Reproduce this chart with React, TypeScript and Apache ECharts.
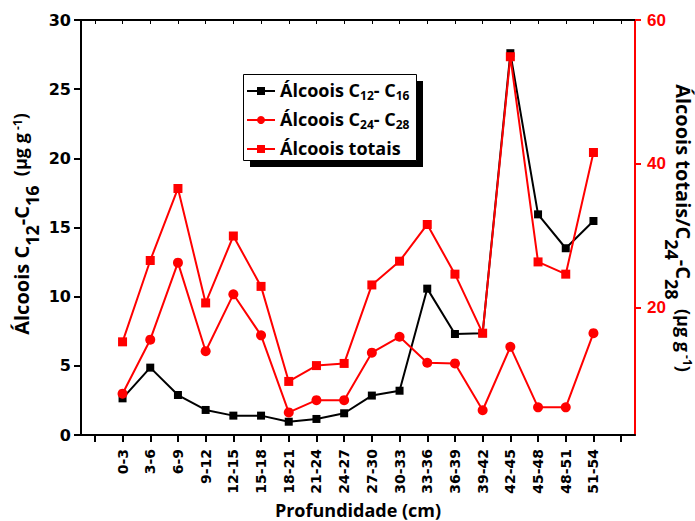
import React, { useEffect, useRef } from 'react';
import * as echarts from 'echarts';

const depths = ['0-3', '3-6', '6-9', '9-12', '12-15', '15-18', '18-21', '21-24', '24-27', '27-30', '30-33', '33-36', '36-39', '39-42', '42-45', '45-48', '48-51', '51-54'];
const alcC12C16 = [2.65, 4.87, 2.89, 1.81, 1.4, 1.4, 0.96, 1.16, 1.57, 2.85, 3.2, 10.58, 7.3, 7.35, 27.6, 15.95, 13.5, 15.47];
const alcC24C28 = [8.1, 15.6, 26.3, 14.0, 21.9, 16.2, 5.5, 7.2, 7.2, 13.8, 16.0, 12.4, 12.3, 5.8, 14.6, 6.2, 6.2, 16.5];
const alcTotais = [15.3, 26.6, 36.6, 20.7, 30.0, 23.0, 9.8, 12.0, 12.3, 23.2, 26.5, 31.6, 24.7, 16.5, 54.9, 26.4, 24.7, 41.6];
const rightMajorTicks = [20, 40, 60];

const RED = '#ff0000';
const TITLE_FONT = 'Open Sans';
const NUM_FONT = 'DejaVu Sans';

export default function App() {
  const ref = useRef<HTMLDivElement>(null);
  useEffect(() => {
    if (!ref.current) return;
    const chart = echarts.init(ref.current, null, { renderer: 'svg' });
    const xTicks = [0, ...depths.map((_, i) => i + 1), depths.length + 1];
    const xLabels = depths.map((_, i) => i + 1);
    const xMin = -0.5;
    const xMax = depths.length + 1.5;

    const legendRich = {
      m: { fontFamily: TITLE_FONT, fontWeight: 'bold', fontSize: 18, lineHeight: 20, verticalAlign: 'top', color: '#000' },
      s: { fontFamily: TITLE_FONT, fontWeight: 'bold', fontSize: 12, lineHeight: 12, padding: [10, 0, 0, 0], verticalAlign: 'bottom', color: '#000' },
    };
    const legendNames: Record<string, string> = {
      c12: '{m|Álcoois C}{s|12}{m|- C}{s|16}',
      c24: '{m|Álcoois C}{s|24}{m|- C}{s|28}',
      tot: '{m|Álcoois totais}{s| }',
    };

    const titleRich = (color: string) => ({
      m: { fontFamily: TITLE_FONT, fontWeight: 'bold', fontSize: 20, lineHeight: 20, verticalAlign: 'top', color },
      s: { fontFamily: TITLE_FONT, fontWeight: 'bold', fontSize: 18, lineHeight: 42, color },
      u: { fontFamily: TITLE_FONT, fontWeight: 'bold', fontSize: 18, lineHeight: 20, verticalAlign: 'top', color },
      p: { fontFamily: TITLE_FONT, fontWeight: 'bold', fontSize: 12, lineHeight: 12, verticalAlign: 'top', color },
    });

    chart.setOption({
      animation: false,
      backgroundColor: '#fff',
      grid: { left: 81, right: 60, top: 20, bottom: 86 },
      legend: {
        orient: 'vertical',
        left: 243,
        top: 74,
        itemWidth: 28,
        itemHeight: 10,
        itemGap: 7,
        padding: [5, 9, 0, 3],
        z: 5,
        data: ['c12', 'c24', 'tot'],
        formatter: (name: string) => legendNames[name],
        textStyle: { rich: legendRich },
      },
      xAxis: [
        {
          type: 'value',
          position: 'bottom',
          min: xMin,
          max: xMax,
          splitLine: { show: false },
          axisLine: { onZero: false, lineStyle: { color: '#000', width: 2 } },
          axisTick: { customValues: xTicks, length: 7, lineStyle: { color: '#000', width: 2 } },
          axisLabel: {
            customValues: xLabels,
            formatter: (v: number) => depths[Math.round(v) - 1] ?? '',
            rotate: 90,
            margin: 14,
            fontFamily: NUM_FONT,
            fontWeight: 'bold',
            fontSize: 14,
            color: '#000',
          },
        },
        {
          type: 'value',
          position: 'top',
          min: xMin,
          max: xMax,
          splitLine: { show: false },
          axisLine: { onZero: false, lineStyle: { color: '#000', width: 2 } },
          axisTick: { customValues: xTicks, inside: true, length: 4, lineStyle: { color: '#000', width: 1 } },
          axisLabel: { show: false },
        },
      ],
      yAxis: [
        {
          type: 'value',
          position: 'left',
          min: 0,
          max: 30,
          interval: 5,
          splitLine: { show: false },
          axisLine: { show: true, onZero: false, lineStyle: { color: '#000', width: 2 } },
          axisTick: { show: true, length: 7, lineStyle: { color: '#000', width: 2 } },
          axisLabel: { margin: 10, fontFamily: NUM_FONT, fontWeight: 'bold', fontSize: 16, color: '#000' },
        },
        {
          type: 'value',
          position: 'right',
          min: 2.36,
          max: 60,
          splitLine: { show: false },
          axisLine: { show: true, onZero: false, lineStyle: { color: RED, width: 2 } },
          axisTick: { show: true, customValues: rightMajorTicks, length: 6, lineStyle: { color: RED, width: 2 } },
          axisLabel: {
            customValues: rightMajorTicks,
            margin: 12,
            fontFamily: 'Liberation Sans',
            fontWeight: 'bold',
            fontSize: 17,
            color: RED,
          },
        },
      ],
      graphic: [
        { type: 'rect', z: 3, shape: { x: 250, y: 81, width: 173, height: 86 }, style: { fill: '#000' } },
        { type: 'rect', z: 3, shape: { x: 243.5, y: 74.5, width: 173, height: 86 }, style: { fill: '#fff', stroke: '#000', lineWidth: 1 } },
        {
          type: 'text',
          x: 32,
          y: 224,
          rotation: Math.PI / 2,
          style: {
            text: '{m|Álcoois C}{s|12}{m|-C}{s|16}{u|  (µg g}{p| -1}{u|)}',
            align: 'center',
            verticalAlign: 'middle',
            rich: titleRich('#000'),
          },
        },
        {
          type: 'text',
          x: 672,
          y: 228,
          rotation: -Math.PI / 2,
          style: {
            text: '{m|Álcoois totais/C}{s|24}{m|-C}{s|28}{u|  (µg g}{p| -1}{u|)}',
            align: 'center',
            verticalAlign: 'middle',
            rich: titleRich(RED),
          },
        },
        {
          type: 'text',
          x: 358,
          y: 510,
          style: {
            text: 'Profundidade (cm)',
            align: 'center',
            verticalAlign: 'middle',
            fontFamily: TITLE_FONT,
            fontWeight: 'bold',
            fontSize: 18,
            fill: '#000',
          },
        },
      ],
      series: [
        {
          name: 'c12',
          type: 'line',
          xAxisIndex: 0,
          yAxisIndex: 0,
          z: 2,
          data: depths.map((_, i) => [i + 1, alcC12C16[i]]),
          symbol: 'rect',
          symbolSize: 8,
          lineStyle: { color: '#000', width: 2 },
          itemStyle: { color: '#000' },
        },
        {
          name: 'c24',
          type: 'line',
          xAxisIndex: 0,
          yAxisIndex: 1,
          z: 3,
          data: depths.map((_, i) => [i + 1, alcC24C28[i]]),
          symbol: 'circle',
          symbolSize: 10,
          lineStyle: { color: RED, width: 2 },
          itemStyle: { color: RED },
        },
        {
          name: 'tot',
          type: 'line',
          xAxisIndex: 0,
          yAxisIndex: 1,
          z: 4,
          data: depths.map((_, i) => [i + 1, alcTotais[i]]),
          symbol: 'rect',
          symbolSize: 9,
          lineStyle: { color: RED, width: 2 },
          itemStyle: { color: RED },
        },
      ],
    });
    return () => chart.dispose();
  }, []);
  return <div ref={ref} style={{ position: 'fixed', left: 0, top: 0, width: 695, height: 521 }} />;
}
